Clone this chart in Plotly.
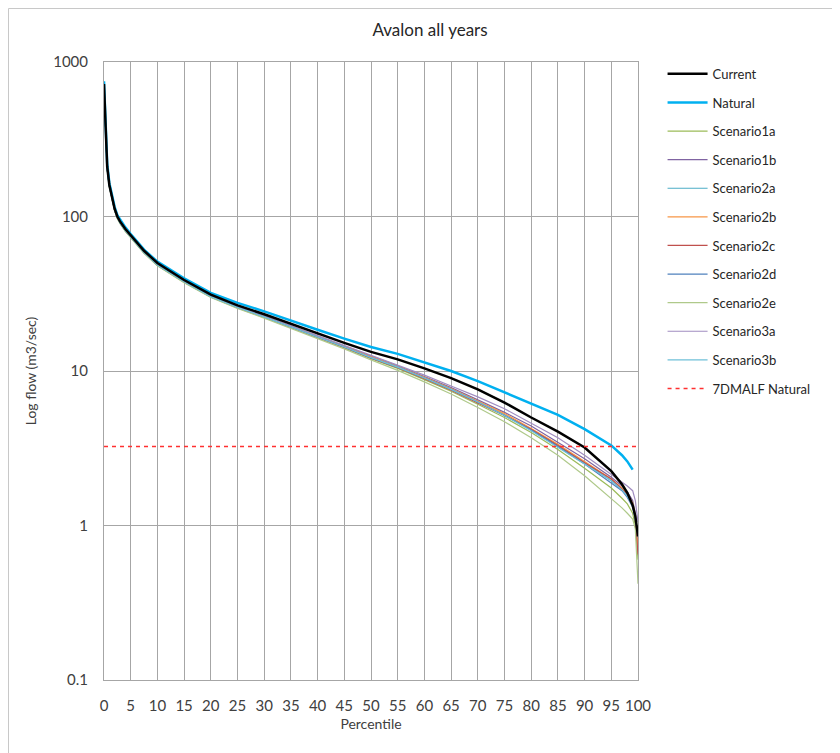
import plotly.graph_objects as go

PCT = [0, 0.1, 0.3, 0.6, 1, 1.5, 2, 2.5, 3, 4, 5, 7.5, 10, 15, 20, 25, 30, 35, 40, 45,
       50, 55, 60, 65, 70, 75, 80, 85, 90, 95, 97, 98, 99, 99.5, 100]

CURRENT = [720, 580, 430, 210, 160, 131, 112, 100, 93, 83, 75.5, 60, 50, 38.8, 31.2, 26.6, 23.3, 20.2, 17.4, 15.2,
           13.3, 11.9, 10.4, 9.0, 7.6, 6.25, 5.0, 4.05, 3.2, 2.25, 1.85, 1.63, 1.35, 1.15, 0.85]
NATURAL = [750, 600, 440, 220, 165, 135, 115, 102, 96, 85, 77, 61, 51, 39.8, 32, 27.6, 24.3, 21.1, 18.5, 16.2,
           14.3, 12.9, 11.4, 10.0, 8.6, 7.3, 6.2, 5.2, 4.2, 3.3, 2.85, 2.6, 2.3, None, None]
SCEN_1A = [690, 555, 415, 203, 156, 127, 109, 97.5, 90.5, 80.5, 73.5, 58, 48.2, 37.5, 30.1, 25.6, 22.2, 19.1, 16.4, 14.1,
           12.0, 10.4, 8.8, 7.4, 6.1, 5.0, 4.0, 3.1, 2.35, 1.75, 1.5, 1.38, 1.2, 1.0, 0.6]
SCEN_1B = [705, 565, 422, 206, 158, 128.5, 110.5, 98.5, 91.5, 81.5, 74.3, 58.8, 48.8, 38.0, 30.5, 26.0, 22.6, 19.5, 16.8, 14.5,
           12.4, 10.8, 9.2, 7.8, 6.5, 5.4, 4.4, 3.45, 2.7, 2.05, 1.8, 1.65, 1.45, 1.2, 0.75]
SCEN_2A = [700, 560, 420, 205, 157, 128, 110, 98, 91, 81, 74, 58.5, 48.5, 37.8, 30.3, 25.8, 22.4, 19.3, 16.6, 14.3,
           12.2, 10.6, 9.0, 7.6, 6.3, 5.2, 4.2, 3.3, 2.55, 1.95, 1.7, 1.55, 1.35, 1.1, 0.8]
SCEN_2B = [700, 560, 420, 205, 157, 128, 110, 98, 91, 81, 74.2, 58.6, 48.6, 37.9, 30.4, 25.9, 22.5, 19.4, 16.7, 14.4,
           12.3, 10.7, 9.1, 7.7, 6.4, 5.3, 4.25, 3.35, 2.6, 2.0, 1.75, 1.6, 1.4, 1.15, 0.72]
SCEN_2C = [698, 558, 418, 204, 156.5, 127.5, 109.5, 97.8, 90.8, 80.8, 73.8, 58.3, 48.4, 37.7, 30.2, 25.7, 22.3, 19.2, 16.5, 14.2,
           12.1, 10.5, 8.9, 7.5, 6.2, 5.15, 4.2, 3.3, 2.55, 2.0, 1.72, 1.58, 1.35, 1.1, 0.65]
SCEN_2D = [700, 560, 420, 205, 157, 128, 110, 98, 91, 81, 74, 58.5, 48.5, 37.8, 30.3, 25.8, 22.4, 19.3, 16.6, 14.3,
           12.2, 10.6, 9.0, 7.6, 6.3, 5.15, 4.15, 3.25, 2.5, 1.9, 1.68, 1.52, 1.32, 1.1, 0.9]
SCEN_2E = [690, 550, 412, 202, 155, 126.5, 109, 97, 90, 80, 73.2, 57.8, 48, 37.3, 29.9, 25.4, 22.0, 18.9, 16.2, 13.9,
           11.8, 10.1, 8.5, 7.1, 5.8, 4.7, 3.7, 2.85, 2.1, 1.5, 1.3, 1.2, 1.1, 0.95, 0.42]
SCEN_3A = [710, 570, 425, 207, 159, 129, 111, 99, 92, 82, 74.8, 59.2, 49.1, 38.2, 30.7, 26.2, 22.8, 19.7, 17.0, 14.7,
           12.6, 11.0, 9.4, 8.0, 6.8, 5.7, 4.6, 3.7, 2.85, 2.15, 1.9, 1.8, 1.68, 1.45, 1.05]
SCEN_3B = [700, 560, 420, 205, 157, 128, 110, 98, 91, 81, 74, 58.5, 48.5, 37.8, 30.3, 25.8, 22.4, 19.3, 16.6, 14.3,
           12.2, 10.6, 9.0, 7.6, 6.3, 5.15, 4.1, 3.2, 2.5, 1.95, 1.7, 1.55, 1.35, 1.12, 0.85]
MALF_X = [0, 100]
MALF_Y = [3.25, 3.25]

X_TICKS = list(range(0, 101, 5))
Y_TICKS = [0.1, 1, 10, 100, 1000]
Y_LABELS = ["0.1", "1", "10", "100", "1000"]

FONT = "Lato, 'Open Sans', sans-serif"

scenarios = [
    ("Scenario1a", SCEN_1A, "#9BBB59"),
    ("Scenario1b", SCEN_1B, "#8064A2"),
    ("Scenario2a", SCEN_2A, "#4BACC6"),
    ("Scenario2b", SCEN_2B, "#F79646"),
    ("Scenario2c", SCEN_2C, "#C0504D"),
    ("Scenario2d", SCEN_2D, "#4F81BD"),
    ("Scenario2e", SCEN_2E, "#AFC98A"),
    ("Scenario3a", SCEN_3A, "#A08CC0"),
    ("Scenario3b", SCEN_3B, "#6FC0D8"),
]

fig = go.Figure()
rank = 3
for name, vals, col in scenarios:
    fig.add_trace(go.Scatter(x=PCT, y=vals, mode="lines", name=name, legendgroup=name,
                             legendrank=rank, line=dict(color=col, width=1.2)))
    rank += 1
fig.add_trace(go.Scatter(x=PCT, y=NATURAL, mode="lines", name="Natural", legendgroup="Natural",
                         legendrank=2, line=dict(color="#00B0F0", width=2.5)))
fig.add_trace(go.Scatter(x=PCT, y=CURRENT, mode="lines", name="Current", legendgroup="Current",
                         legendrank=1, line=dict(color="#000000", width=2.5)))
fig.add_trace(go.Scatter(x=MALF_X, y=MALF_Y, mode="lines", name="7DMALF Natural", legendgroup="MALF",
                         legendrank=20, line=dict(color="#FF3030", width=1.5, dash="4px,4px")))

L, R, T, B = 96, 210, 54, 81
W, H = 840, 753
PW, PH = W - L - R, H - T - B

fig.update_layout(
    width=W, height=H,
    paper_bgcolor="white", plot_bgcolor="white",
    margin=dict(l=L, r=R, t=T, b=B),
    font=dict(family=FONT, size=13, color="#404040"),
    title=dict(text="Avalon all years", x=0.5024, xanchor="center", y=0.9708, yanchor="middle",
               font=dict(family=FONT, size=17, color="#262626")),
    legend=dict(x=1.046, xanchor="left", y=1.005, yanchor="top", tracegroupgap=8.7,
                font=dict(family=FONT, size=13, color="#262626"), bgcolor="rgba(0,0,0,0)",
                itemwidth=40),
    showlegend=True,
    shapes=[dict(type="rect", xref="paper", yref="paper",
                 x0=(0.5 - L) / PW, x1=(W - L + 10) / PW,
                 y0=-(B + 10) / PH, y1=1 + (T - 0.5) / PH,
                 line=dict(color="#C8C8C8", width=1), fillcolor="rgba(0,0,0,0)", layer="below")],
)
fig.update_xaxes(range=[0, 100], tickvals=X_TICKS, ticktext=[str(v) for v in X_TICKS],
                 showgrid=True, gridcolor="#A6A6A6", gridwidth=1, zeroline=False,
                 showline=True, linecolor="#A6A6A6", mirror=True, ticks="",
                 tickfont=dict(size=15, color="#404040"), ticklabelstandoff=12, automargin=False,
                 title=dict(text="Percentile", font=dict(size=14, color="#404040"), standoff=6))
fig.update_yaxes(type="log", range=[-1, 3], tickvals=Y_TICKS, ticktext=Y_LABELS,
                 showgrid=True, gridcolor="#A6A6A6", gridwidth=1, zeroline=False,
                 showline=True, linecolor="#A6A6A6", mirror=True, ticks="",
                 tickfont=dict(size=15, color="#404040"), ticklabelstandoff=12, automargin=False,
                 title=dict(text="Log flow (m3/sec)", font=dict(size=14, color="#404040"), standoff=13))

fig.write_html("out.html")
